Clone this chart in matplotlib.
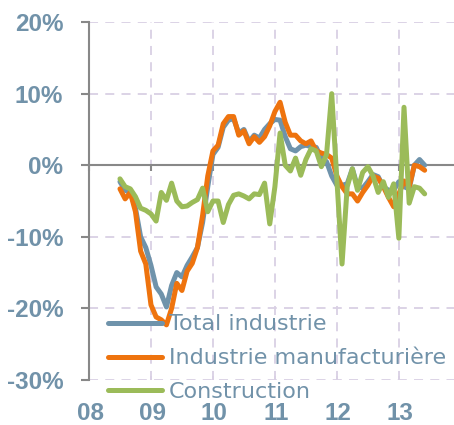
import numpy as np
import matplotlib
matplotlib.use('Agg')
import matplotlib.pyplot as plt
import matplotlib.transforms as mtransforms

plt.rcParams['font.family'] = ['Liberation Sans', 'DejaVu Sans']

# Monthly values, Jul 2008 .. Jun 2013 (% y/y)
start_year = 2008
start_month = 6  # months after Jan 2008

total_industrie = [
    -2.3, -3.5, -3.8, -6.0, -10.0, -11.5, -14.0, -17.0, -18.0, -19.8,
    -16.8, -15.0, -15.6, -14.0, -12.8, -11.5, -8.0, -3.0, 1.5, 2.5,
    5.3, 6.3, 6.5, 4.5, 5.0, 3.3, 4.2, 3.8, 5.0, 5.8,
    6.4, 6.3, 4.0, 2.3, 2.0, 2.6, 2.8, 2.6, 2.5, 1.0,
    0.5, -1.5, -2.8, -2.8, -2.6, -0.5, -3.0, -3.2, -2.3, -1.3,
    -1.6, -3.0, -3.5, -3.5, -2.3, -3.0, -3.3, 0.0, 0.8, 0.0,
]
industrie_manuf = [
    -3.3, -4.7, -3.8, -6.5, -12.0, -13.8, -19.5, -21.2, -21.6, -22.3,
    -20.0, -16.5, -17.5, -14.8, -13.7, -11.5, -7.0, -1.5, 2.0, 2.8,
    5.8, 6.8, 6.8, 4.2, 4.8, 3.0, 4.0, 3.2, 4.0, 5.5,
    7.5, 8.8, 6.0, 4.2, 4.2, 3.4, 3.0, 3.4, 2.0, 1.7,
    1.5, 1.0, -1.5, -3.0, -4.0, -4.0, -5.0, -3.8, -2.8, -1.5,
    -1.8, -3.0, -4.5, -5.8, -4.0, -2.2, -3.0, 0.0, -0.2, -0.7,
]
construction = [
    -1.9, -3.0, -3.3, -4.4, -6.0, -6.3, -6.8, -7.8, -3.8, -4.9,
    -2.5, -5.0, -5.8, -5.7, -5.2, -4.8, -3.2, -6.5, -5.0, -5.0,
    -8.0, -5.5, -4.2, -4.0, -4.3, -4.7, -4.0, -4.1, -2.5, -8.2,
    -3.0, 4.5, 0.0, -0.8, 1.0, -1.4, 0.8, 2.3, 2.0, -0.2,
    1.5, 10.0, -2.0, -13.8, -3.0, -0.5, -3.5, -1.0, -0.2, -1.5,
    -3.8, -2.3, -4.5, -2.6, -10.2, 8.1, -5.3, -3.0, -3.2, -4.0,
]

years = [2008, 2009, 2010, 2011, 2012, 2013]
year_labels = ['08', '09', '10', '11', '12', '13']
y_ticks = [-30, -20, -10, 0, 10, 20]

x = start_year + (start_month + np.arange(len(total_industrie))) / 12.0

label_col = '#7192a9'
axis_col = '#888888'
grid_col = '#d9d0e4'

fig = plt.figure(figsize=(4.54, 4.25), dpi=100)
ax = fig.add_axes([0.196, 0.106, 0.804, 0.842])

line_kw = dict(lw=3.6, solid_joinstyle='round', solid_capstyle='round')
ax.plot(x, total_industrie, color='#6f93ab', label='Total industrie', zorder=3, **line_kw)
ax.plot(x, industrie_manuf, color='#ee730e', label='Industrie manufacturière', zorder=4, **line_kw)
ax.plot(x, construction, color='#9bbb59', label='Construction', zorder=5, **line_kw)

ax.set_xlim(2008, 2013.89)
ax.set_ylim(-30, 20)

# dashed grid
ax.set_yticks(y_ticks)
ax.set_xticks(years)
ax.grid(True, color=grid_col, lw=1.3, ls=(0, (5, 4)), zorder=0)
ax.set_axisbelow(True)

for s in ['top', 'right']:
    ax.spines[s].set_visible(False)
ax.spines['left'].set_color(axis_col)
ax.spines['left'].set_linewidth(1.5)
ax.spines['left'].set_zorder(2)
ax.spines['bottom'].set_position(('data', 0))
ax.spines['bottom'].set_color(axis_col)
ax.spines['bottom'].set_linewidth(1.5)
ax.spines['bottom'].set_zorder(2)

ax.set_yticklabels([f'{v}%' for v in y_ticks])
ax.tick_params(axis='y', length=6, width=1.5, color=axis_col, pad=12.5,
               labelsize=17.5, labelcolor=label_col)
for t in ax.get_yticklabels():
    t.set_fontweight('bold')
ax.tick_params(axis='x', length=4, width=1.5, color=axis_col, labelbottom=False)

# small year ticks on the -30% line, pointing up
sec = ax.secondary_xaxis('bottom')
sec.set_xticks(years)
sec.tick_params(axis='x', direction='in', length=3, width=1.2, color=grid_col,
                labelbottom=False)
sec.spines['bottom'].set_visible(False)

trans = mtransforms.blended_transform_factory(ax.transData, fig.transFigure)
for yr, lab in zip(years, year_labels):
    ax.text(yr + 0.02, 0.027, lab, transform=trans, ha='center', va='center',
            fontsize=17.5, fontweight='bold', color=label_col, clip_on=False)

leg = ax.legend(loc='upper left', bbox_to_anchor=(0.238, 0.26),
                bbox_transform=fig.transFigure, frameon=False,
                prop={'family': 'DejaVu Sans', 'size': 16},
                handlelength=2.45, handletextpad=0.3, labelspacing=0.62,
                borderpad=0, borderaxespad=0)
for t in leg.get_texts():
    t.set_color(label_col)
leg.set_zorder(6)

fig.savefig('out.png', dpi=100)
